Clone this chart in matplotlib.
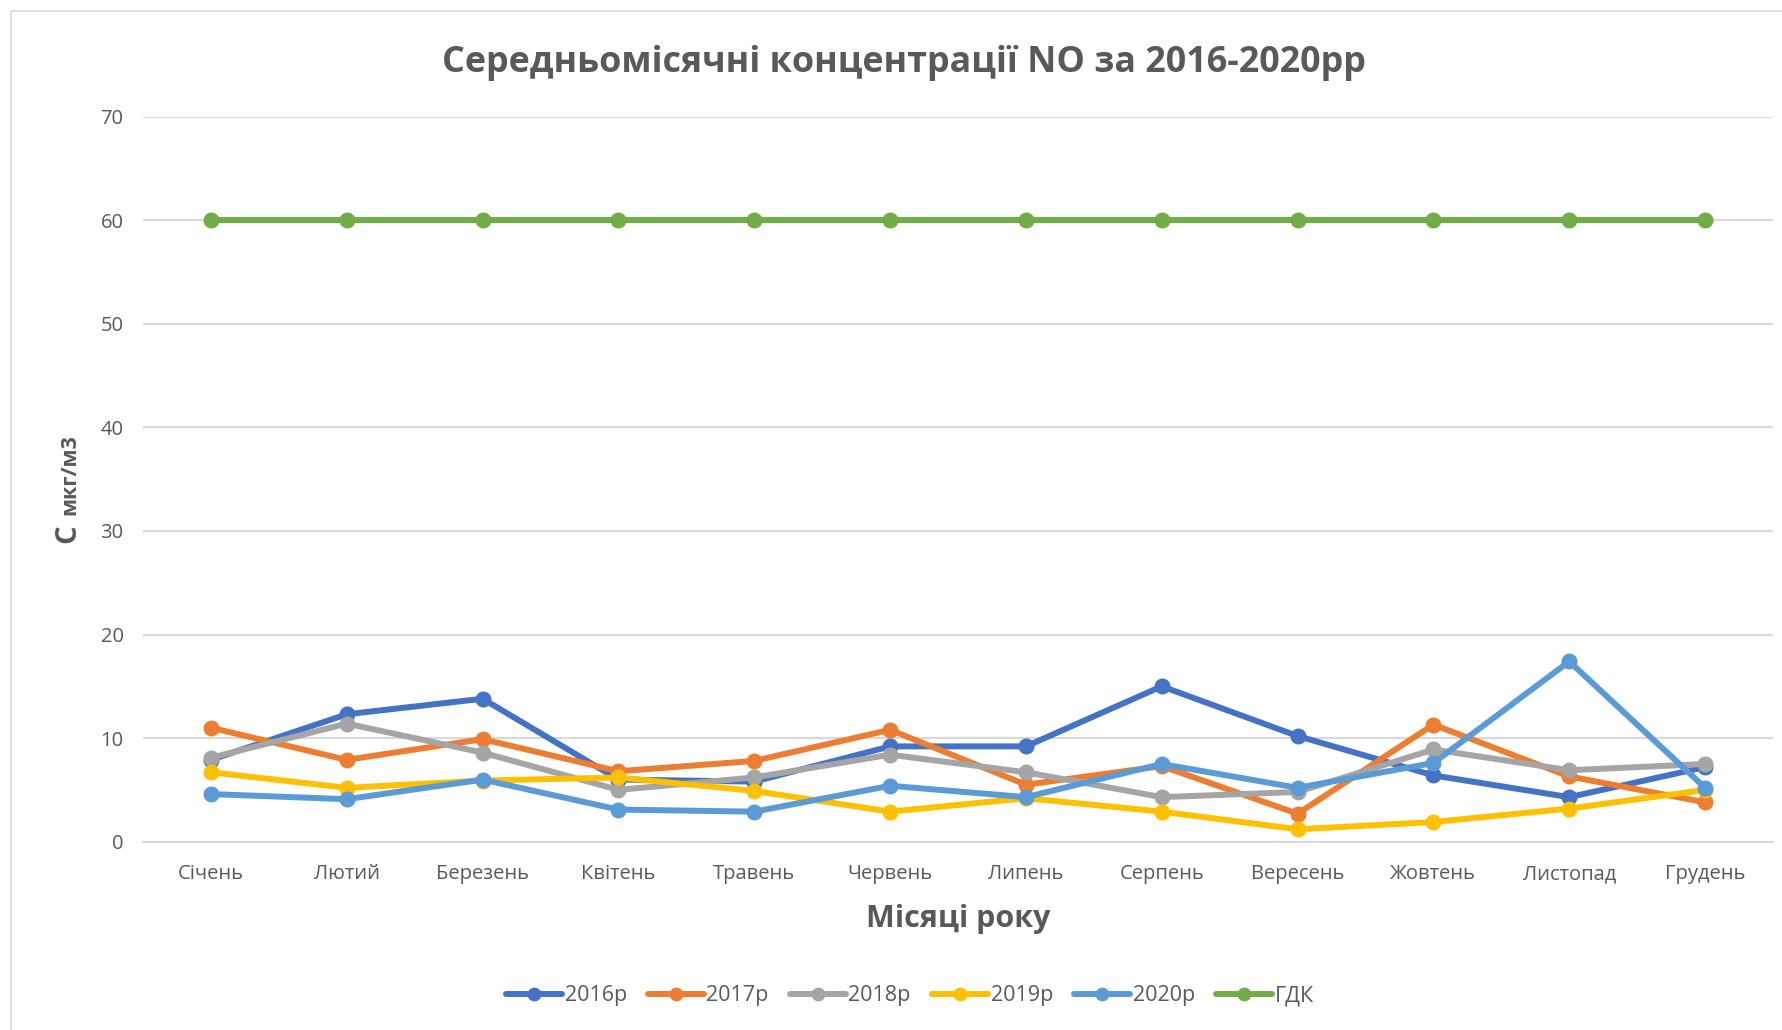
import matplotlib
matplotlib.use("Agg")
import matplotlib.pyplot as plt
from matplotlib.patches import Rectangle

months = ["Січень", "Лютий", "Березень", "Квітень", "Травень", "Червень",
          "Липень", "Серпень", "Вересень", "Жовтень", "Листопад", "Грудень"]
s2016 = [7.9, 12.3, 13.8, 6.0, 5.8, 9.2, 9.2, 15.0, 10.2, 6.4, 4.3, 7.2]
s2017 = [11.0, 7.9, 9.9, 6.8, 7.8, 10.8, 5.5, 7.3, 2.7, 11.3, 6.3, 3.8]
s2018 = [8.1, 11.4, 8.6, 5.0, 6.2, 8.4, 6.7, 4.3, 4.8, 8.9, 6.9, 7.5]
s2019 = [6.7, 5.2, 5.9, 6.2, 4.9, 2.9, 4.2, 2.9, 1.2, 1.9, 3.2, 5.0]
s2020 = [4.6, 4.1, 6.0, 3.1, 2.9, 5.4, 4.3, 7.5, 5.2, 7.6, 17.4, 5.2]
gdk = [60] * 12
series_names = ["2016р", "2017р", "2018р", "2019р", "2020р", "ГДК"]
colors = ["#4472C4", "#ED7D31", "#A5A5A5", "#FFC000", "#5B9BD5", "#70AD47"]
yticks = [0, 10, 20, 30, 40, 50, 60, 70]

plt.rcParams['font.family'] = ['Open Sans', 'DejaVu Sans']
TXT = "#595959"

W, H = 1782, 1030
fig = plt.figure(figsize=(W / 100, H / 100), dpi=100)
fig.patch.set_facecolor("white")
fig.patches.append(Rectangle((11 / W, -0.1), 1.2, (1030 - 11) / H + 0.1,
                             transform=fig.transFigure, fill=False,
                             edgecolor="#D9D9D9", lw=1.2))

left, right = 143 / W, 1773 / W
bottom, top = (H - 841.7) / H, (H - 116.5) / H
ax = fig.add_axes([left, bottom, right - left, top - bottom])

x = list(range(len(months)))
all_series = [s2016, s2017, s2018, s2019, s2020, gdk]
for i, (vals, name, c) in enumerate(zip(all_series, series_names, colors)):
    ax.plot(x, vals, color=c, lw=4.3, marker="o", markersize=10.5,
            label=name, zorder=3 + i, solid_capstyle="round")

ax.set_xlim(-0.5, len(months) - 0.5)
ax.set_ylim(0, 70)
ax.set_yticks(yticks)
ax.set_xticks(x)
ax.set_xticklabels(months)
ax.yaxis.grid(True, color="#D9D9D9", lw=1.5, zorder=0)
for s in ["top", "right", "left"]:
    ax.spines[s].set_visible(False)
ax.spines["bottom"].set_color("#D9D9D9")
ax.spines["bottom"].set_linewidth(1.5)
ax.tick_params(axis="both", length=0, labelsize=14.5, labelcolor=TXT)
ax.tick_params(axis="x", pad=16)
ax.tick_params(axis="y", pad=14)

fig.text(904 / W, (H - 63) / H, "Середньомісячні концентрації NO за 2016-2020рр",
         ha="center", va="center", fontsize=25.8, fontweight="bold", color=TXT)
fig.text(958 / W, (H - 919) / H, "Місяці року", ha="center", va="center",
         fontsize=22, fontweight="bold", color=TXT)
fig.text(68 / W, (H - 543) / H, "С", rotation=90, ha="center", va="bottom",
         fontsize=21, fontweight="bold", color=TXT)
fig.text(70 / W, (H - 515) / H, "мкг/м3", rotation=90, ha="center", va="bottom",
         fontsize=15.5, fontweight="bold", color=TXT)

leg = fig.legend(loc="center", bbox_to_anchor=(910 / W, (H - 996) / H), ncol=6,
                 frameon=False, fontsize=15.5, handlelength=2.6, handletextpad=0.1,
                 columnspacing=1.0, markerscale=0.85)
for t in leg.get_texts():
    t.set_color(TXT)

fig.savefig("out.png", dpi=100, facecolor="white")
